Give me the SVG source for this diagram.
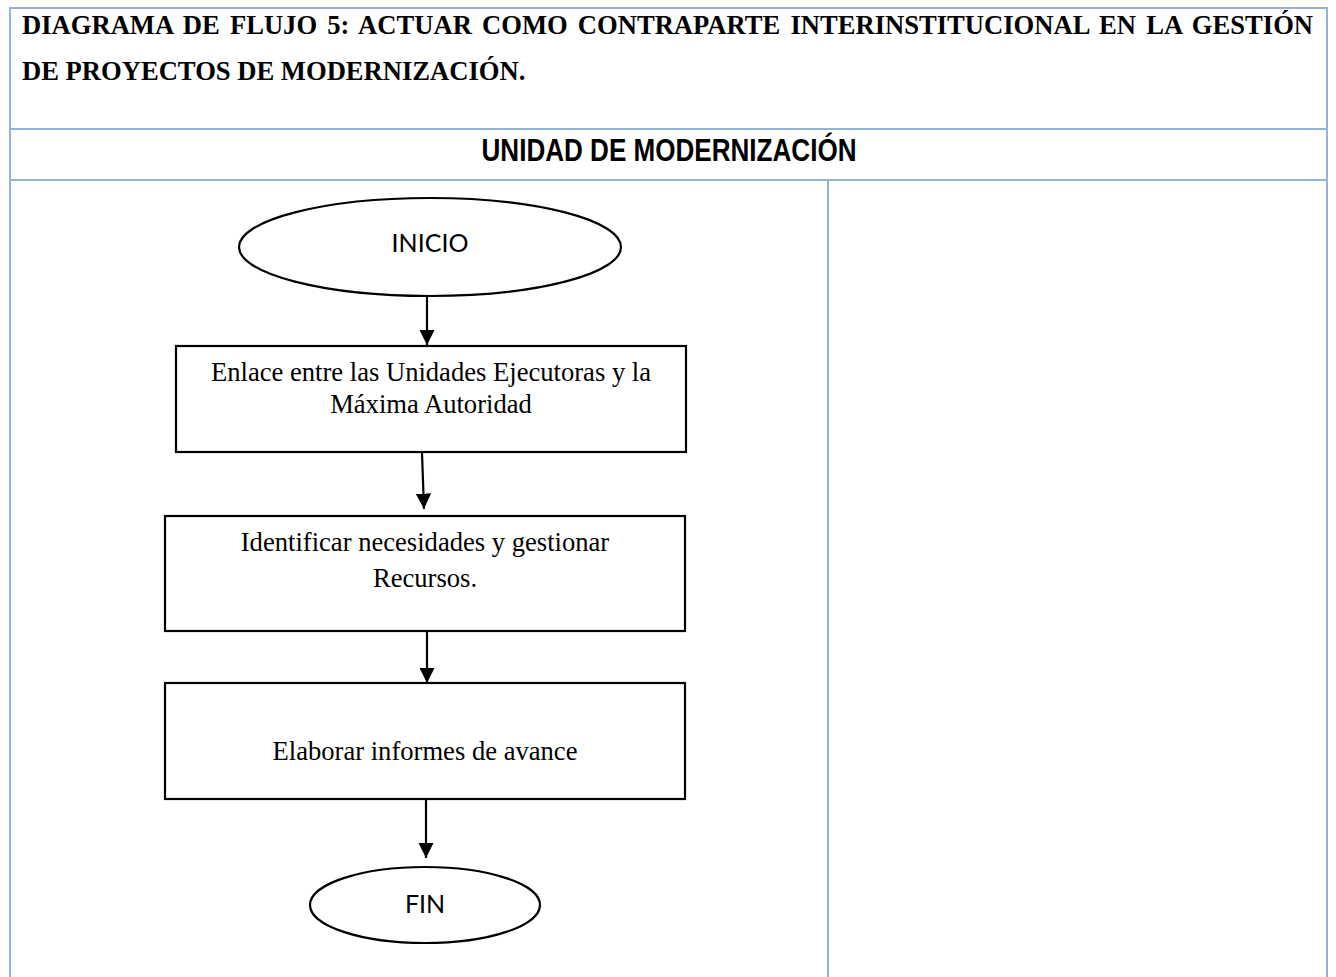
<svg xmlns="http://www.w3.org/2000/svg" width="1336" height="977" viewBox="0 0 1336 977">
<defs>
<style>
.grid{stroke:#95b3d7;stroke-width:2;fill:none}
.title{font-family:"Liberation Serif","Times New Roman",serif;font-weight:bold;font-size:26.6px;fill:#000}
.hdr{font-family:"Liberation Sans Narrow","Liberation Sans",Arial,sans-serif;font-weight:bold;font-size:31px;fill:#000;text-anchor:middle}
.box{fill:#fff;stroke:#000;stroke-width:2.2}
.t{font-family:"Liberation Serif","Times New Roman",serif;font-size:26.6px;fill:#000;text-anchor:middle}
.term{font-family:Lato,"Noto Sans",sans-serif;font-size:25px;fill:#000;text-anchor:middle}
.conn{stroke:#000;stroke-width:2.2;fill:none}
</style>
<marker id="ah" markerWidth="7" markerHeight="7" refX="7" refY="3.5" orient="auto" markerUnits="strokeWidth">
<path d="M0,0 L7,3.5 L0,7 Z" fill="#000"/>
</marker>
</defs>
<rect width="1336" height="977" fill="#fff"/>
<g id="table">
<path class="grid" d="M10,990 V8 H1327 V990 M10,129 H1327 M10,180 H1327 M828,180 V990"/>
<text class="title" x="22" y="34" word-spacing="3.5">DIAGRAMA DE FLUJO 5: ACTUAR COMO CONTRAPARTE INTERINSTITUCIONAL EN LA GESTIÓN</text>
<text class="title" x="22" y="80">DE PROYECTOS DE MODERNIZACIÓN.</text>
<text class="hdr" x="669" y="161" textLength="375" lengthAdjust="spacingAndGlyphs">UNIDAD DE MODERNIZACIÓN</text>
</g>
<g id="connectors">
<line class="conn" x1="427" y1="296" x2="427" y2="345" marker-end="url(#ah)"/>
<line class="conn" x1="422" y1="453" x2="424" y2="509" marker-end="url(#ah)"/>
<line class="conn" x1="427" y1="631" x2="427" y2="683" marker-end="url(#ah)"/>
<line class="conn" x1="426" y1="799" x2="426" y2="858" marker-end="url(#ah)"/>
</g>
<g id="inicio">
<ellipse class="box" cx="430" cy="247" rx="191" ry="49"/>
<text class="term" x="430" y="252">INICIO</text>
</g>
<g id="enlace">
<rect class="box" x="176" y="346" width="510" height="106"/>
<text class="t" x="431" y="381">Enlace entre las Unidades Ejecutoras y la</text>
<text class="t" x="431" y="413">Máxima Autoridad</text>
</g>
<g id="identificar">
<rect class="box" x="165" y="516" width="520" height="115"/>
<text class="t" x="425" y="551">Identificar necesidades y gestionar</text>
<text class="t" x="425" y="587">Recursos.</text>
</g>
<g id="elaborar">
<rect class="box" x="165" y="683" width="520" height="116"/>
<text class="t" x="425" y="760">Elaborar informes de avance</text>
</g>
<g id="fin">
<ellipse class="box" cx="425" cy="905" rx="115" ry="38"/>
<text class="term" x="425" y="913">FIN</text>
</g>
</svg>
